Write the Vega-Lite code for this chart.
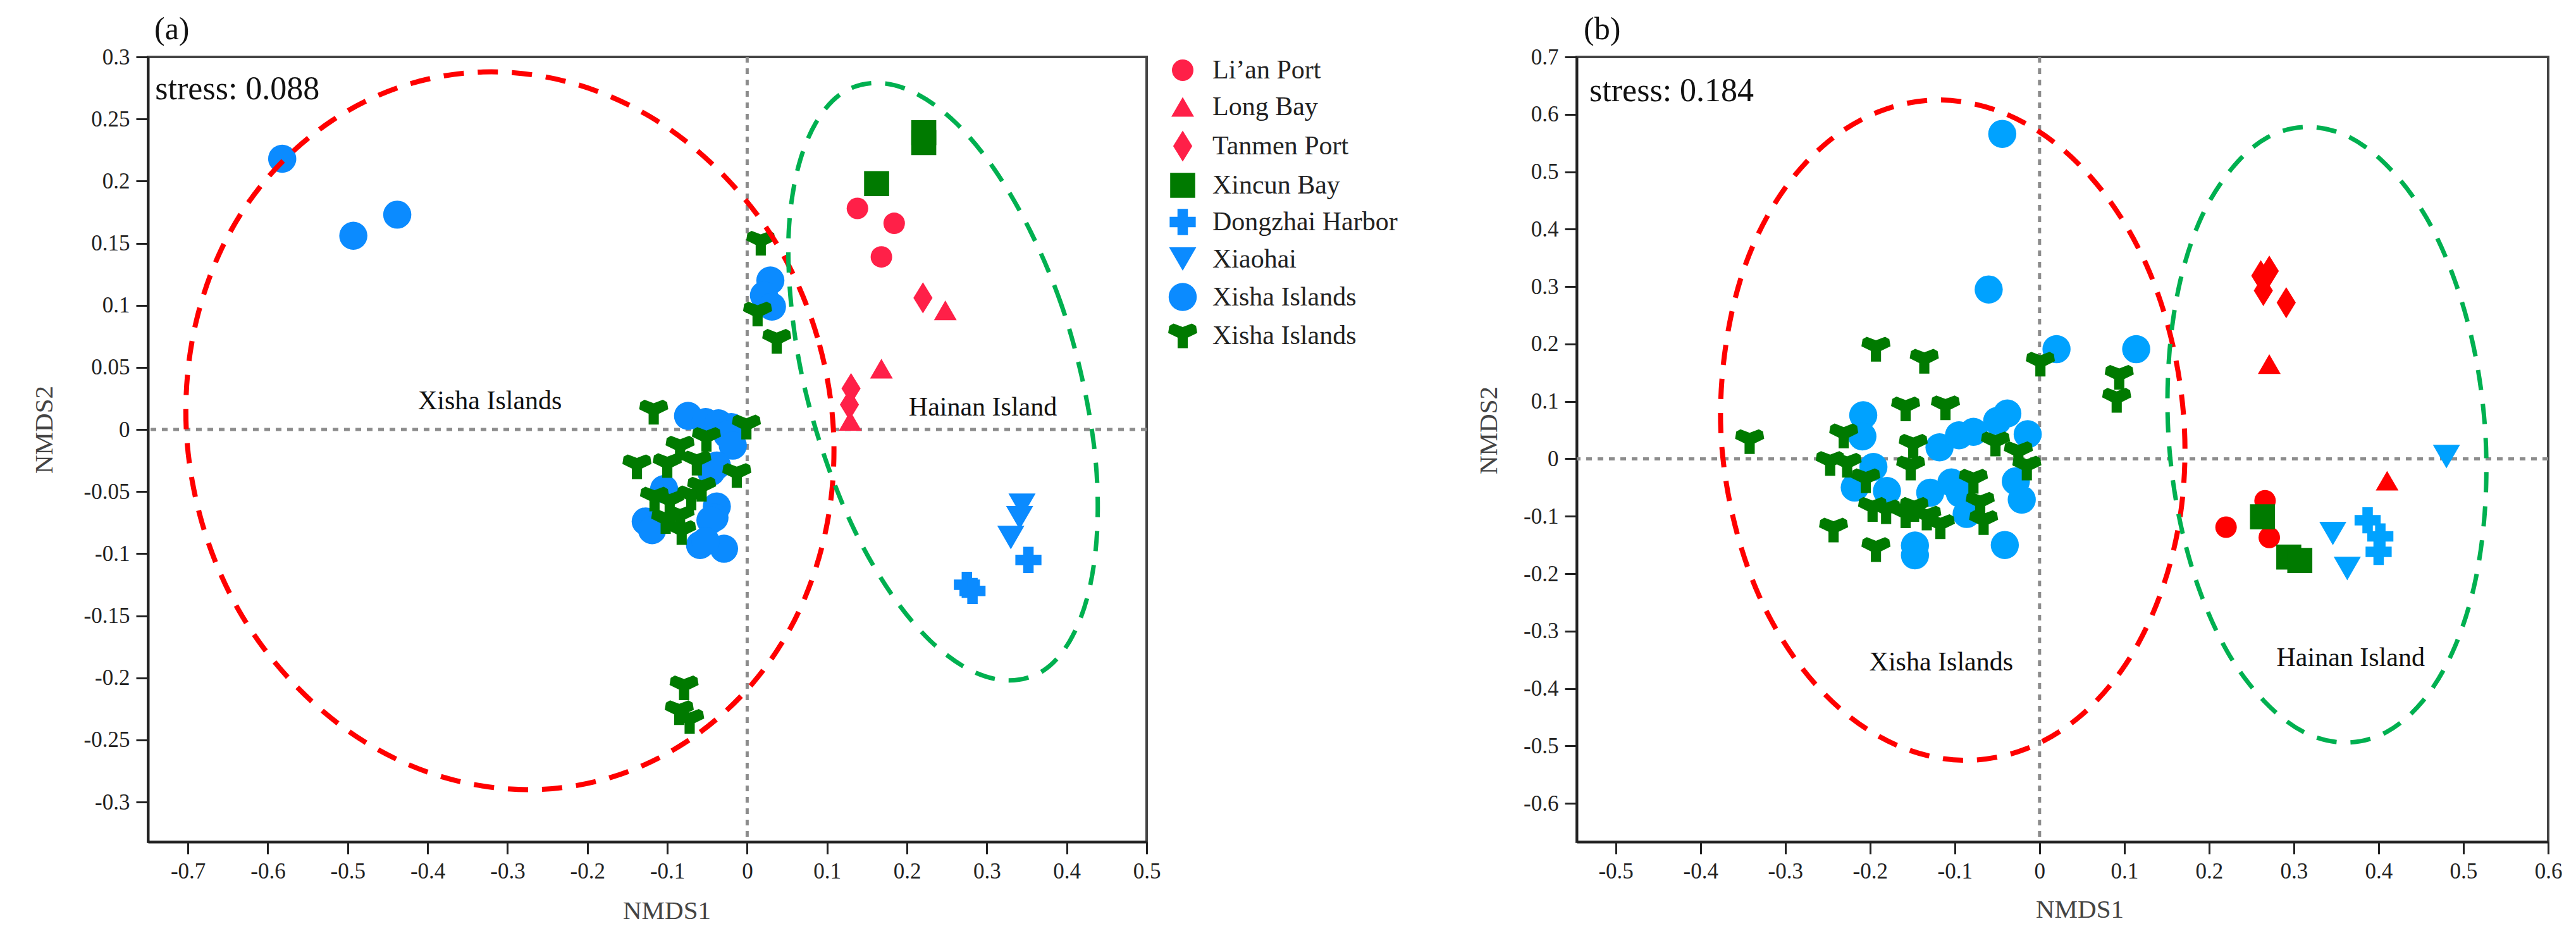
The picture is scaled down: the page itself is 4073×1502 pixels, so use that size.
{
"$schema": "https://vega.github.io/schema/vega-lite/v6.json",
"padding": {"left": 47, "top": 20, "right": 0, "bottom": 0},
"background": "white",
"config": {
  "view": {"stroke": "#444", "strokeWidth": 4},
  "font": "Liberation Serif",
  "concat": {"spacing": 119},
  "axis": {"domainColor": "#222", "domainWidth": 4, "tickColor": "#222", "tickWidth": 3, "tickSize": 19,
    "labelFont": "Liberation Serif", "labelFontSize": 35, "labelColor": "#222", "labelPadding": 10,
    "titleFont": "Liberation Serif", "titleFontSize": 41, "titleFontWeight": "normal", "titleColor": "#444",
    "grid": false, "format": "~g", "labelExpr": "replace(datum.label, '\u2212', '-')", "labelFlush": false, "labelOverlap": false,
    "titleBaseline": "middle", "titleAlign": "center"},
  "legend": {"labelLimit": 0}
},
"datasets": {
  "pointsA": [
    {"site": "Li’an Port", "x": 0.138, "y": 0.178}, {"site": "Li’an Port", "x": 0.184, "y": 0.166}, {"site": "Li’an Port", "x": 0.168, "y": 0.139},
    {"site": "Long Bay", "x": 0.248, "y": 0.096}, {"site": "Long Bay", "x": 0.168, "y": 0.049}, {"site": "Long Bay", "x": 0.129, "y": 0.007},
    {"site": "Tanmen Port", "x": 0.220, "y": 0.106}, {"site": "Tanmen Port", "x": 0.130, "y": 0.033}, {"site": "Tanmen Port", "x": 0.128, "y": 0.020},
    {"site": "Xincun Bay", "x": 0.221, "y": 0.239}, {"site": "Xincun Bay", "x": 0.221, "y": 0.231}, {"site": "Xincun Bay", "x": 0.162, "y": 0.198},
    {"site": "Dongzhai Harbor", "x": 0.352, "y": -0.105}, {"site": "Dongzhai Harbor", "x": 0.275, "y": -0.125}, {"site": "Dongzhai Harbor", "x": 0.282, "y": -0.130},
    {"site": "Xiaohai", "x": 0.344, "y": -0.061}, {"site": "Xiaohai", "x": 0.341, "y": -0.071}, {"site": "Xiaohai", "x": 0.330, "y": -0.087},
    {"site": "Xisha Islands (1)", "x": -0.582, "y": 0.218}, {"site": "Xisha Islands (1)", "x": -0.493, "y": 0.156}, {"site": "Xisha Islands (1)", "x": -0.438, "y": 0.173},
    {"site": "Xisha Islands (1)", "x": 0.029, "y": 0.120}, {"site": "Xisha Islands (1)", "x": 0.021, "y": 0.108}, {"site": "Xisha Islands (1)", "x": 0.031, "y": 0.099},
    {"site": "Xisha Islands (1)", "x": -0.074, "y": 0.011}, {"site": "Xisha Islands (1)", "x": -0.052, "y": 0.006}, {"site": "Xisha Islands (1)", "x": -0.036, "y": 0.005},
    {"site": "Xisha Islands (1)", "x": -0.020, "y": 0.002}, {"site": "Xisha Islands (1)", "x": -0.025, "y": -0.004}, {"site": "Xisha Islands (1)", "x": -0.018, "y": -0.013},
    {"site": "Xisha Islands (1)", "x": -0.038, "y": -0.029}, {"site": "Xisha Islands (1)", "x": -0.045, "y": -0.034}, {"site": "Xisha Islands (1)", "x": -0.104, "y": -0.048},
    {"site": "Xisha Islands (1)", "x": -0.038, "y": -0.062}, {"site": "Xisha Islands (1)", "x": -0.041, "y": -0.071}, {"site": "Xisha Islands (1)", "x": -0.046, "y": -0.073},
    {"site": "Xisha Islands (1)", "x": -0.127, "y": -0.074}, {"site": "Xisha Islands (1)", "x": -0.119, "y": -0.081}, {"site": "Xisha Islands (1)", "x": -0.059, "y": -0.093},
    {"site": "Xisha Islands (1)", "x": -0.029, "y": -0.096}, {"site": "Xisha Islands (1)", "x": -0.052, "y": -0.090},
    {"site": "Xisha Islands (2)", "x": 0.017, "y": 0.150}, {"site": "Xisha Islands (2)", "x": 0.013, "y": 0.093}, {"site": "Xisha Islands (2)", "x": 0.037, "y": 0.071},
    {"site": "Xisha Islands (2)", "x": -0.117, "y": 0.014}, {"site": "Xisha Islands (2)", "x": -0.001, "y": 0.002}, {"site": "Xisha Islands (2)", "x": -0.051, "y": -0.008},
    {"site": "Xisha Islands (2)", "x": -0.084, "y": -0.015}, {"site": "Xisha Islands (2)", "x": -0.138, "y": -0.030}, {"site": "Xisha Islands (2)", "x": -0.100, "y": -0.029},
    {"site": "Xisha Islands (2)", "x": -0.063, "y": -0.027}, {"site": "Xisha Islands (2)", "x": -0.013, "y": -0.037}, {"site": "Xisha Islands (2)", "x": -0.097, "y": -0.059},
    {"site": "Xisha Islands (2)", "x": -0.070, "y": -0.055}, {"site": "Xisha Islands (2)", "x": -0.084, "y": -0.071}, {"site": "Xisha Islands (2)", "x": -0.102, "y": -0.074},
    {"site": "Xisha Islands (2)", "x": -0.082, "y": -0.083}, {"site": "Xisha Islands (2)", "x": -0.116, "y": -0.056}, {"site": "Xisha Islands (2)", "x": -0.057, "y": -0.048},
    {"site": "Xisha Islands (2)", "x": -0.079, "y": -0.208}, {"site": "Xisha Islands (2)", "x": -0.085, "y": -0.228}, {"site": "Xisha Islands (2)", "x": -0.072, "y": -0.235}
  ],
  "pointsB": [
    {"site": "Li’an Port", "x": 0.266, "y": -0.073}, {"site": "Li’an Port", "x": 0.220, "y": -0.119}, {"site": "Li’an Port", "x": 0.271, "y": -0.137},
    {"site": "Long Bay", "x": 0.271, "y": 0.165}, {"site": "Long Bay", "x": 0.410, "y": -0.038},
    {"site": "Tanmen Port", "x": 0.271, "y": 0.327}, {"site": "Tanmen Port", "x": 0.261, "y": 0.319}, {"site": "Tanmen Port", "x": 0.264, "y": 0.293}, {"site": "Tanmen Port", "x": 0.291, "y": 0.272},
    {"site": "Xincun Bay", "x": 0.263, "y": -0.101}, {"site": "Xincun Bay", "x": 0.294, "y": -0.171}, {"site": "Xincun Bay", "x": 0.307, "y": -0.177},
    {"site": "Dongzhai Harbor", "x": 0.387, "y": -0.107}, {"site": "Dongzhai Harbor", "x": 0.402, "y": -0.135}, {"site": "Dongzhai Harbor", "x": 0.400, "y": -0.162},
    {"site": "Xiaohai", "x": 0.480, "y": 0.004}, {"site": "Xiaohai", "x": 0.346, "y": -0.130}, {"site": "Xiaohai", "x": 0.363, "y": -0.191},
    {"site": "Xisha Islands (1)", "x": -0.044, "y": 0.566}, {"site": "Xisha Islands (1)", "x": -0.060, "y": 0.295}, {"site": "Xisha Islands (1)", "x": 0.020, "y": 0.191},
    {"site": "Xisha Islands (1)", "x": 0.114, "y": 0.191}, {"site": "Xisha Islands (1)", "x": -0.208, "y": 0.076}, {"site": "Xisha Islands (1)", "x": -0.209, "y": 0.039},
    {"site": "Xisha Islands (1)", "x": -0.118, "y": 0.020}, {"site": "Xisha Islands (1)", "x": -0.095, "y": 0.041}, {"site": "Xisha Islands (1)", "x": -0.078, "y": 0.047},
    {"site": "Xisha Islands (1)", "x": -0.050, "y": 0.066}, {"site": "Xisha Islands (1)", "x": -0.038, "y": 0.079}, {"site": "Xisha Islands (1)", "x": -0.014, "y": 0.043},
    {"site": "Xisha Islands (1)", "x": -0.196, "y": -0.014}, {"site": "Xisha Islands (1)", "x": -0.218, "y": -0.050}, {"site": "Xisha Islands (1)", "x": -0.180, "y": -0.056},
    {"site": "Xisha Islands (1)", "x": -0.129, "y": -0.059}, {"site": "Xisha Islands (1)", "x": -0.104, "y": -0.041}, {"site": "Xisha Islands (1)", "x": -0.094, "y": -0.060},
    {"site": "Xisha Islands (1)", "x": -0.086, "y": -0.096}, {"site": "Xisha Islands (1)", "x": -0.028, "y": -0.039}, {"site": "Xisha Islands (1)", "x": -0.021, "y": -0.071},
    {"site": "Xisha Islands (1)", "x": -0.147, "y": -0.151}, {"site": "Xisha Islands (1)", "x": -0.147, "y": -0.168}, {"site": "Xisha Islands (1)", "x": -0.041, "y": -0.150},
    {"site": "Xisha Islands (2)", "x": -0.193, "y": 0.191}, {"site": "Xisha Islands (2)", "x": -0.136, "y": 0.170}, {"site": "Xisha Islands (2)", "x": 0.001, "y": 0.165},
    {"site": "Xisha Islands (2)", "x": 0.094, "y": 0.142}, {"site": "Xisha Islands (2)", "x": 0.091, "y": 0.102}, {"site": "Xisha Islands (2)", "x": -0.158, "y": 0.087},
    {"site": "Xisha Islands (2)", "x": -0.111, "y": 0.089}, {"site": "Xisha Islands (2)", "x": -0.231, "y": 0.040}, {"site": "Xisha Islands (2)", "x": -0.342, "y": 0.030},
    {"site": "Xisha Islands (2)", "x": -0.052, "y": 0.026}, {"site": "Xisha Islands (2)", "x": -0.149, "y": 0.022}, {"site": "Xisha Islands (2)", "x": -0.152, "y": -0.016},
    {"site": "Xisha Islands (2)", "x": -0.025, "y": 0.009}, {"site": "Xisha Islands (2)", "x": -0.015, "y": -0.016}, {"site": "Xisha Islands (2)", "x": -0.247, "y": -0.008},
    {"site": "Xisha Islands (2)", "x": -0.227, "y": -0.011}, {"site": "Xisha Islands (2)", "x": -0.205, "y": -0.038}, {"site": "Xisha Islands (2)", "x": -0.078, "y": -0.039},
    {"site": "Xisha Islands (2)", "x": -0.070, "y": -0.079}, {"site": "Xisha Islands (2)", "x": -0.066, "y": -0.111}, {"site": "Xisha Islands (2)", "x": -0.197, "y": -0.088},
    {"site": "Xisha Islands (2)", "x": -0.181, "y": -0.092}, {"site": "Xisha Islands (2)", "x": -0.158, "y": -0.099}, {"site": "Xisha Islands (2)", "x": -0.148, "y": -0.088},
    {"site": "Xisha Islands (2)", "x": -0.133, "y": -0.103}, {"site": "Xisha Islands (2)", "x": -0.117, "y": -0.118}, {"site": "Xisha Islands (2)", "x": -0.243, "y": -0.124},
    {"site": "Xisha Islands (2)", "x": -0.193, "y": -0.158}
  ],
  "redA": [
    {"t": 0, "x": 0.108, "y": -0.001}, {"t": 15, "x": 0.088, "y": 0.074}, {"t": 30, "x": 0.042, "y": 0.144}, {"t": 45, "x": -0.027, "y": 0.203},
    {"t": 60, "x": -0.114, "y": 0.249}, {"t": 75, "x": -0.214, "y": 0.278}, {"t": 90, "x": -0.320, "y": 0.288}, {"t": 105, "x": -0.424, "y": 0.278},
    {"t": 120, "x": -0.519, "y": 0.249}, {"t": 135, "x": -0.600, "y": 0.203}, {"t": 150, "x": -0.659, "y": 0.144}, {"t": 165, "x": -0.694, "y": 0.074},
    {"t": 180, "x": -0.702, "y": -0.001}, {"t": 195, "x": -0.682, "y": -0.076}, {"t": 210, "x": -0.636, "y": -0.146}, {"t": 225, "x": -0.567, "y": -0.205},
    {"t": 240, "x": -0.480, "y": -0.251}, {"t": 255, "x": -0.380, "y": -0.280}, {"t": 270, "x": -0.274, "y": -0.290}, {"t": 285, "x": -0.170, "y": -0.280},
    {"t": 300, "x": -0.075, "y": -0.251}, {"t": 315, "x": 0.006, "y": -0.205}, {"t": 330, "x": 0.065, "y": -0.146}, {"t": 345, "x": 0.100, "y": -0.076}
  ],
  "greenA": [
    {"t": 0, "x": 0.420, "y": 0.039}, {"t": 15, "x": 0.393, "y": 0.101}, {"t": 30, "x": 0.355, "y": 0.159}, {"t": 45, "x": 0.310, "y": 0.209},
    {"t": 60, "x": 0.261, "y": 0.247}, {"t": 75, "x": 0.210, "y": 0.271}, {"t": 90, "x": 0.162, "y": 0.279}, {"t": 105, "x": 0.119, "y": 0.271},
    {"t": 120, "x": 0.086, "y": 0.247}, {"t": 135, "x": 0.063, "y": 0.209}, {"t": 150, "x": 0.052, "y": 0.159}, {"t": 165, "x": 0.055, "y": 0.101},
    {"t": 180, "x": 0.070, "y": 0.039}, {"t": 195, "x": 0.098, "y": -0.024}, {"t": 210, "x": 0.135, "y": -0.082}, {"t": 225, "x": 0.180, "y": -0.132},
    {"t": 240, "x": 0.229, "y": -0.170}, {"t": 255, "x": 0.280, "y": -0.194}, {"t": 270, "x": 0.328, "y": -0.202}, {"t": 285, "x": 0.371, "y": -0.194},
    {"t": 300, "x": 0.404, "y": -0.170}, {"t": 315, "x": 0.427, "y": -0.132}, {"t": 330, "x": 0.438, "y": -0.082}, {"t": 345, "x": 0.436, "y": -0.024}
  ],
  "redB": [
    {"t": 0, "x": 0.171, "y": 0.050}, {"t": 15, "x": 0.157, "y": 0.199}, {"t": 30, "x": 0.126, "y": 0.338}, {"t": 45, "x": 0.079, "y": 0.457},
    {"t": 60, "x": 0.020, "y": 0.548}, {"t": 75, "x": -0.047, "y": 0.605}, {"t": 90, "x": -0.119, "y": 0.625}, {"t": 105, "x": -0.189, "y": 0.605},
    {"t": 120, "x": -0.253, "y": 0.548}, {"t": 135, "x": -0.307, "y": 0.457}, {"t": 150, "x": -0.347, "y": 0.338}, {"t": 165, "x": -0.370, "y": 0.199},
    {"t": 180, "x": -0.376, "y": 0.050}, {"t": 195, "x": -0.362, "y": -0.099}, {"t": 210, "x": -0.331, "y": -0.238}, {"t": 225, "x": -0.284, "y": -0.357},
    {"t": 240, "x": -0.225, "y": -0.448}, {"t": 255, "x": -0.158, "y": -0.505}, {"t": 270, "x": -0.087, "y": -0.525}, {"t": 285, "x": -0.016, "y": -0.505},
    {"t": 300, "x": 0.048, "y": -0.448}, {"t": 315, "x": 0.102, "y": -0.357}, {"t": 330, "x": 0.142, "y": -0.238}, {"t": 345, "x": 0.166, "y": -0.099}
  ],
  "greenB": [
    {"t": 0, "x": 0.526, "y": 0.042}, {"t": 15, "x": 0.514, "y": 0.181}, {"t": 30, "x": 0.490, "y": 0.310}, {"t": 45, "x": 0.456, "y": 0.421},
    {"t": 60, "x": 0.413, "y": 0.506}, {"t": 75, "x": 0.366, "y": 0.560}, {"t": 90, "x": 0.317, "y": 0.578}, {"t": 105, "x": 0.269, "y": 0.560},
    {"t": 120, "x": 0.227, "y": 0.506}, {"t": 135, "x": 0.191, "y": 0.421}, {"t": 150, "x": 0.166, "y": 0.310}, {"t": 165, "x": 0.153, "y": 0.181},
    {"t": 180, "x": 0.152, "y": 0.042}, {"t": 195, "x": 0.164, "y": -0.097}, {"t": 210, "x": 0.188, "y": -0.226}, {"t": 225, "x": 0.222, "y": -0.337},
    {"t": 240, "x": 0.265, "y": -0.422}, {"t": 255, "x": 0.312, "y": -0.476}, {"t": 270, "x": 0.361, "y": -0.494}, {"t": 285, "x": 0.409, "y": -0.476},
    {"t": 300, "x": 0.452, "y": -0.422}, {"t": 315, "x": 0.487, "y": -0.337}, {"t": 330, "x": 0.512, "y": -0.226}, {"t": 345, "x": 0.525, "y": -0.097}
  ],
  "regionA": [{"label": "Xisha Islands", "x": -0.322, "y": 0.023}, {"label": "Hainan Island", "x": 0.295, "y": 0.018}],
  "stressA": [{"label": "stress: 0.088", "x": -0.741, "y": 0.274}],
  "regionB": [{"label": "Xisha Islands", "x": -0.116, "y": -0.354}, {"label": "Hainan Island", "x": 0.367, "y": -0.347}],
  "stressB": [{"label": "stress: 0.184", "x": -0.531, "y": 0.641}]
},
"hconcat": [
  {
    "width": 1579, "height": 1241,
    "title": {"text": "(a)", "anchor": "start", "frame": "group", "dx": 10, "offset": -49, "fontSize": 50, "font": "Liberation Serif", "fontWeight": "normal", "color": "#111", "baseline": "bottom"},
    "layer": [
      {"data": {"values": [{}]}, "mark": {"type": "rule", "color": "#8c8c8c", "strokeWidth": 5, "strokeDash": [9, 9]},
       "encoding": {"x": {"datum": 0, "type": "quantitative", "scale": {"domain": [-0.75, 0.5], "nice": false, "zero": false},
                          "axis": {"title": "NMDS1", "values": [-0.7, -0.6, -0.5, -0.4, -0.3, -0.2, -0.1, 0, 0.1, 0.2, 0.3, 0.4, 0.5], "titleX": 820, "titleY": 109}}}},
      {"data": {"values": [{}]}, "mark": {"type": "rule", "color": "#8c8c8c", "strokeWidth": 5, "strokeDash": [9, 9]},
       "encoding": {"y": {"datum": 0, "type": "quantitative", "scale": {"domain": [-0.332, 0.3], "nice": false, "zero": false},
                          "axis": {"title": "NMDS2", "values": [-0.3, -0.25, -0.2, -0.15, -0.1, -0.05, 0, 0.05, 0.1, 0.15, 0.2, 0.25, 0.3], "titleX": -164, "titleY": 589}}}},
      {"data": {"name": "pointsA"}, "mark": {"type": "point", "filled": true, "opacity": 1, "strokeWidth": 0},
       "encoding": {
         "x": {"field": "x", "type": "quantitative", "scale": {"domain": [-0.75, 0.5], "nice": false, "zero": false},
               "axis": {"title": "NMDS1", "values": [-0.7, -0.6, -0.5, -0.4, -0.3, -0.2, -0.1, 0, 0.1, 0.2, 0.3, 0.4, 0.5], "titleX": 820, "titleY": 109}},
         "y": {"field": "y", "type": "quantitative", "scale": {"domain": [-0.332, 0.3], "nice": false, "zero": false},
               "axis": {"title": "NMDS2", "values": [-0.3, -0.25, -0.2, -0.15, -0.1, -0.05, 0, 0.05, 0.1, 0.15, 0.2, 0.25, 0.3], "titleX": -164, "titleY": 589}},
         "color": {"field": "site", "type": "nominal",
                   "scale": {"domain": ["Li’an Port", "Long Bay", "Tanmen Port", "Xincun Bay", "Dongzhai Harbor", "Xiaohai", "Xisha Islands (1)", "Xisha Islands (2)"],
                             "range": ["#FF2048", "#FF2048", "#FF2048", "#007A00", "#0B8BFF", "#0B8BFF", "#0B8BFF", "#007A00"]},
                   "legend": {"title": null, "orient": "right", "offset": 34, "padding": 0, "labelFont": "Liberation Serif", "labelFontSize": 42, "labelColor": "#222", "labelLimit": 0,
                              "symbolSize": 1950, "symbolStrokeWidth": 0, "labelOffset": 24, "rowPadding": 16,
                              "labelExpr": "indexof(datum.label, 'Xisha') == 0 ? 'Xisha Islands' : datum.label"}},
         "shape": {"field": "site", "type": "nominal",
                   "scale": {"domain": ["Li’an Port", "Long Bay", "Tanmen Port", "Xincun Bay", "Dongzhai Harbor", "Xiaohai", "Xisha Islands (1)", "Xisha Islands (2)"],
                             "range": ["circle", "triangle-up", "M0,-1.3L0.8,0L0,1.3L-0.8,0Z", "square", "cross", "triangle-down", "circle",
                                       "M-0.35,0.85L0.35,0.85L0.35,0.12L1,-0.2L0.92,-0.69L0.63,-0.85L0,-0.61L-0.63,-0.85L-0.92,-0.69L-1,-0.2L-0.35,0.12Z"]},
                   "legend": {"title": null, "orient": "right", "offset": 34, "padding": 0, "labelFont": "Liberation Serif", "labelFontSize": 42, "labelColor": "#222", "labelLimit": 0,
                              "symbolSize": 1950, "symbolStrokeWidth": 0, "labelOffset": 24, "rowPadding": 16,
                              "labelExpr": "indexof(datum.label, 'Xisha') == 0 ? 'Xisha Islands' : datum.label"}},
         "size": {"field": "site", "type": "nominal",
                  "scale": {"domain": ["Li’an Port", "Long Bay", "Tanmen Port", "Xincun Bay", "Dongzhai Harbor", "Xiaohai", "Xisha Islands (1)", "Xisha Islands (2)"],
                            "range": [1156, 2116, 1725, 1024, 1936, 2116, 1156, 1936]},
                  "legend": null}
       }},
      {"data": {"name": "redA"}, "mark": {"type": "line", "color": "#FF0000", "strokeWidth": 8, "strokeDash": [32, 22], "interpolate": "cardinal-closed"},
       "encoding": {"x": {"field": "x", "type": "quantitative", "scale": {"domain": [-0.75, 0.5], "nice": false, "zero": false},
                          "axis": {"title": "NMDS1", "values": [-0.7, -0.6, -0.5, -0.4, -0.3, -0.2, -0.1, 0, 0.1, 0.2, 0.3, 0.4, 0.5], "titleX": 820, "titleY": 109}},
                    "y": {"field": "y", "type": "quantitative", "scale": {"domain": [-0.332, 0.3], "nice": false, "zero": false},
                          "axis": {"title": "NMDS2", "values": [-0.3, -0.25, -0.2, -0.15, -0.1, -0.05, 0, 0.05, 0.1, 0.15, 0.2, 0.25, 0.3], "titleX": -164, "titleY": 589}},
                    "order": {"field": "t", "type": "quantitative"}}},
      {"data": {"name": "greenA"}, "mark": {"type": "line", "color": "#00B050", "strokeWidth": 7, "strokeDash": [32, 22], "interpolate": "cardinal-closed"},
       "encoding": {"x": {"field": "x", "type": "quantitative", "scale": {"domain": [-0.75, 0.5], "nice": false, "zero": false},
                          "axis": {"title": "NMDS1", "values": [-0.7, -0.6, -0.5, -0.4, -0.3, -0.2, -0.1, 0, 0.1, 0.2, 0.3, 0.4, 0.5], "titleX": 820, "titleY": 109}},
                    "y": {"field": "y", "type": "quantitative", "scale": {"domain": [-0.332, 0.3], "nice": false, "zero": false},
                          "axis": {"title": "NMDS2", "values": [-0.3, -0.25, -0.2, -0.15, -0.1, -0.05, 0, 0.05, 0.1, 0.15, 0.2, 0.25, 0.3], "titleX": -164, "titleY": 589}},
                    "order": {"field": "t", "type": "quantitative"}}},
      {"data": {"name": "regionA"}, "mark": {"type": "text", "font": "Liberation Serif", "fontSize": 42, "color": "#111", "align": "center", "baseline": "middle"},
       "encoding": {"x": {"field": "x", "type": "quantitative", "scale": {"domain": [-0.75, 0.5], "nice": false, "zero": false},
                          "axis": {"title": "NMDS1", "values": [-0.7, -0.6, -0.5, -0.4, -0.3, -0.2, -0.1, 0, 0.1, 0.2, 0.3, 0.4, 0.5], "titleX": 820, "titleY": 109}},
                    "y": {"field": "y", "type": "quantitative", "scale": {"domain": [-0.332, 0.3], "nice": false, "zero": false},
                          "axis": {"title": "NMDS2", "values": [-0.3, -0.25, -0.2, -0.15, -0.1, -0.05, 0, 0.05, 0.1, 0.15, 0.2, 0.25, 0.3], "titleX": -164, "titleY": 589}},
                    "text": {"field": "label"}}},
      {"data": {"name": "stressA"}, "mark": {"type": "text", "font": "Liberation Serif", "fontSize": 52, "color": "#111", "align": "left", "baseline": "middle"},
       "encoding": {"x": {"field": "x", "type": "quantitative", "scale": {"domain": [-0.75, 0.5], "nice": false, "zero": false},
                          "axis": {"title": "NMDS1", "values": [-0.7, -0.6, -0.5, -0.4, -0.3, -0.2, -0.1, 0, 0.1, 0.2, 0.3, 0.4, 0.5], "titleX": 820, "titleY": 109}},
                    "y": {"field": "y", "type": "quantitative", "scale": {"domain": [-0.332, 0.3], "nice": false, "zero": false},
                          "axis": {"title": "NMDS2", "values": [-0.3, -0.25, -0.2, -0.15, -0.1, -0.05, 0, 0.05, 0.1, 0.15, 0.2, 0.25, 0.3], "titleX": -164, "titleY": 589}},
                    "text": {"field": "label"}}}
    ]
  },
  {
    "width": 1536, "height": 1241,
    "title": {"text": "(b)", "anchor": "start", "frame": "group", "dx": 11, "offset": -49, "fontSize": 50, "font": "Liberation Serif", "fontWeight": "normal", "color": "#111", "baseline": "bottom"},
    "layer": [
      {"data": {"values": [{}]}, "mark": {"type": "rule", "color": "#8c8c8c", "strokeWidth": 5, "strokeDash": [9, 9]},
       "encoding": {"x": {"datum": 0, "type": "quantitative", "scale": {"domain": [-0.546, 0.6], "nice": false, "zero": false},
                          "axis": {"title": "NMDS1", "values": [-0.5, -0.4, -0.3, -0.2, -0.1, 0, 0.1, 0.2, 0.3, 0.4, 0.5, 0.6], "titleX": 795, "titleY": 107}}}},
      {"data": {"values": [{}]}, "mark": {"type": "rule", "color": "#8c8c8c", "strokeWidth": 5, "strokeDash": [9, 9]},
       "encoding": {"y": {"datum": 0, "type": "quantitative", "scale": {"domain": [-0.667, 0.7], "nice": false, "zero": false},
                          "axis": {"title": "NMDS2", "values": [-0.6, -0.5, -0.4, -0.3, -0.2, -0.1, 0, 0.1, 0.2, 0.3, 0.4, 0.5, 0.6, 0.7], "titleX": -139, "titleY": 590}}}},
      {"data": {"name": "pointsB"}, "mark": {"type": "point", "filled": true, "opacity": 1, "strokeWidth": 0},
       "encoding": {
         "x": {"field": "x", "type": "quantitative", "scale": {"domain": [-0.546, 0.6], "nice": false, "zero": false},
               "axis": {"title": "NMDS1", "values": [-0.5, -0.4, -0.3, -0.2, -0.1, 0, 0.1, 0.2, 0.3, 0.4, 0.5, 0.6], "titleX": 795, "titleY": 107}},
         "y": {"field": "y", "type": "quantitative", "scale": {"domain": [-0.667, 0.7], "nice": false, "zero": false},
               "axis": {"title": "NMDS2", "values": [-0.6, -0.5, -0.4, -0.3, -0.2, -0.1, 0, 0.1, 0.2, 0.3, 0.4, 0.5, 0.6, 0.7], "titleX": -139, "titleY": 590}},
         "color": {"field": "site", "type": "nominal",
                   "scale": {"domain": ["Li’an Port", "Long Bay", "Tanmen Port", "Xincun Bay", "Dongzhai Harbor", "Xiaohai", "Xisha Islands (1)", "Xisha Islands (2)"],
                             "range": ["#FF0000", "#FF0000", "#FF0000", "#007A00", "#00A2FF", "#00A2FF", "#00A2FF", "#007A00"]},
                   "legend": null},
         "shape": {"field": "site", "type": "nominal",
                   "scale": {"domain": ["Li’an Port", "Long Bay", "Tanmen Port", "Xincun Bay", "Dongzhai Harbor", "Xiaohai", "Xisha Islands (1)", "Xisha Islands (2)"],
                             "range": ["circle", "triangle-up", "M0,-1.3L0.8,0L0,1.3L-0.8,0Z", "square", "cross", "triangle-down", "circle",
                                       "M-0.35,0.85L0.35,0.85L0.35,0.12L1,-0.2L0.92,-0.69L0.63,-0.85L0,-0.61L-0.63,-0.85L-0.92,-0.69L-1,-0.2L-0.35,0.12Z"]},
                   "legend": null},
         "size": {"field": "site", "type": "nominal",
                  "scale": {"domain": ["Li’an Port", "Long Bay", "Tanmen Port", "Xincun Bay", "Dongzhai Harbor", "Xiaohai", "Xisha Islands (1)", "Xisha Islands (2)"],
                            "range": [1156, 2116, 1725, 1024, 1936, 2116, 1156, 1936]},
                  "legend": null}
       }},
      {"data": {"name": "redB"}, "mark": {"type": "line", "color": "#FF0000", "strokeWidth": 8, "strokeDash": [32, 22], "interpolate": "cardinal-closed"},
       "encoding": {"x": {"field": "x", "type": "quantitative", "scale": {"domain": [-0.546, 0.6], "nice": false, "zero": false},
                          "axis": {"title": "NMDS1", "values": [-0.5, -0.4, -0.3, -0.2, -0.1, 0, 0.1, 0.2, 0.3, 0.4, 0.5, 0.6], "titleX": 795, "titleY": 107}},
                    "y": {"field": "y", "type": "quantitative", "scale": {"domain": [-0.667, 0.7], "nice": false, "zero": false},
                          "axis": {"title": "NMDS2", "values": [-0.6, -0.5, -0.4, -0.3, -0.2, -0.1, 0, 0.1, 0.2, 0.3, 0.4, 0.5, 0.6, 0.7], "titleX": -139, "titleY": 590}},
                    "order": {"field": "t", "type": "quantitative"}}},
      {"data": {"name": "greenB"}, "mark": {"type": "line", "color": "#00B050", "strokeWidth": 7, "strokeDash": [32, 22], "interpolate": "cardinal-closed"},
       "encoding": {"x": {"field": "x", "type": "quantitative", "scale": {"domain": [-0.546, 0.6], "nice": false, "zero": false},
                          "axis": {"title": "NMDS1", "values": [-0.5, -0.4, -0.3, -0.2, -0.1, 0, 0.1, 0.2, 0.3, 0.4, 0.5, 0.6], "titleX": 795, "titleY": 107}},
                    "y": {"field": "y", "type": "quantitative", "scale": {"domain": [-0.667, 0.7], "nice": false, "zero": false},
                          "axis": {"title": "NMDS2", "values": [-0.6, -0.5, -0.4, -0.3, -0.2, -0.1, 0, 0.1, 0.2, 0.3, 0.4, 0.5, 0.6, 0.7], "titleX": -139, "titleY": 590}},
                    "order": {"field": "t", "type": "quantitative"}}},
      {"data": {"name": "regionB"}, "mark": {"type": "text", "font": "Liberation Serif", "fontSize": 42, "color": "#111", "align": "center", "baseline": "middle"},
       "encoding": {"x": {"field": "x", "type": "quantitative", "scale": {"domain": [-0.546, 0.6], "nice": false, "zero": false},
                          "axis": {"title": "NMDS1", "values": [-0.5, -0.4, -0.3, -0.2, -0.1, 0, 0.1, 0.2, 0.3, 0.4, 0.5, 0.6], "titleX": 795, "titleY": 107}},
                    "y": {"field": "y", "type": "quantitative", "scale": {"domain": [-0.667, 0.7], "nice": false, "zero": false},
                          "axis": {"title": "NMDS2", "values": [-0.6, -0.5, -0.4, -0.3, -0.2, -0.1, 0, 0.1, 0.2, 0.3, 0.4, 0.5, 0.6, 0.7], "titleX": -139, "titleY": 590}},
                    "text": {"field": "label"}}},
      {"data": {"name": "stressB"}, "mark": {"type": "text", "font": "Liberation Serif", "fontSize": 52, "color": "#111", "align": "left", "baseline": "middle"},
       "encoding": {"x": {"field": "x", "type": "quantitative", "scale": {"domain": [-0.546, 0.6], "nice": false, "zero": false},
                          "axis": {"title": "NMDS1", "values": [-0.5, -0.4, -0.3, -0.2, -0.1, 0, 0.1, 0.2, 0.3, 0.4, 0.5, 0.6], "titleX": 795, "titleY": 107}},
                    "y": {"field": "y", "type": "quantitative", "scale": {"domain": [-0.667, 0.7], "nice": false, "zero": false},
                          "axis": {"title": "NMDS2", "values": [-0.6, -0.5, -0.4, -0.3, -0.2, -0.1, 0, 0.1, 0.2, 0.3, 0.4, 0.5, 0.6, 0.7], "titleX": -139, "titleY": 590}},
                    "text": {"field": "label"}}}
    ]
  }
],
"resolve": {"scale": {"color": "independent", "shape": "independent", "size": "independent"}, "legend": {"color": "independent", "shape": "independent"}}
}
